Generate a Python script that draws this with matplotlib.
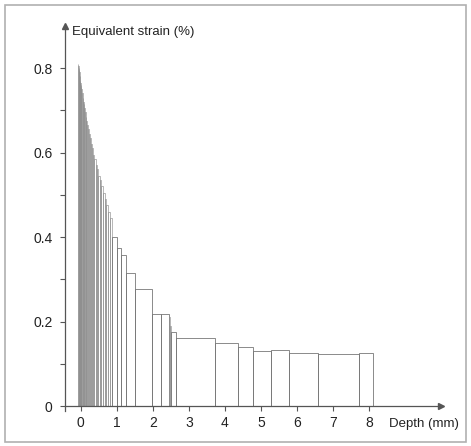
import matplotlib
matplotlib.use("Agg")
import matplotlib.pyplot as plt
from matplotlib.patches import Rectangle

plt.rcParams['font.family'] = ['Liberation Sans', 'DejaVu Sans']

# Bar left edges (depth, mm) and equivalent strain (%) of each layer
bar_left = [-0.08, -0.07, -0.06, -0.05, -0.04, -0.03, -0.02, -0.01, 0.0, 0.01,
            0.02, 0.035, 0.05, 0.065, 0.08, 0.10, 0.12, 0.14, 0.16, 0.185,
            0.21, 0.235, 0.26, 0.29, 0.32, 0.35, 0.38, 0.415, 0.45, 0.49,
            0.53, 0.57, 0.615, 0.66, 0.71, 0.76, 0.81, 0.88, 1.00, 1.12,
            1.26, 1.51, 1.97, 2.22, 2.46, 2.48, 2.50, 2.64, 3.72, 4.36,
            4.77, 5.28, 5.78, 6.59, 7.72]
bar_right = bar_left[1:] + [8.12]
strain = [0.81, 0.805, 0.80, 0.795, 0.79, 0.78, 0.77, 0.765, 0.76, 0.755,
          0.75, 0.74, 0.73, 0.72, 0.715, 0.705, 0.695, 0.685, 0.675, 0.665,
          0.655, 0.645, 0.635, 0.62, 0.61, 0.595, 0.585, 0.57, 0.56, 0.545,
          0.535, 0.52, 0.505, 0.49, 0.475, 0.46, 0.445, 0.40, 0.375, 0.357,
          0.314, 0.278, 0.219, 0.217, 0.21, 0.19, 0.176, 0.162, 0.148, 0.140,
          0.130, 0.132, 0.125, 0.122, 0.125]
widths = [r - l for l, r in zip(bar_left, bar_right)]

x_ticks = [0, 1, 2, 3, 4, 5, 6, 7, 8]
y_ticks = [0, 0.2, 0.4, 0.6, 0.8]
y_tick_labels = ['0', '0.2', '0.4', '0.6', '0.8']
y_minor = [0.1, 0.3, 0.5, 0.7]

W, H = 471, 446
fig = plt.figure(figsize=(W / 100, H / 100), dpi=100)
fig.patch.set_facecolor('white')

# outer frame
fig.add_artist(Rectangle((5 / W, 4 / H), 461 / W, 437 / H, transform=fig.transFigure,
                         fill=False, edgecolor='#b0b0b0', linewidth=1.2))

ax = fig.add_axes([64.5 / W, 34.9 / H, 376.6 / W, 384.9 / H])
ax.set_xlim(-0.45, 10.0)
ax.set_ylim(-0.012, 0.899)

axis_col = '#555555'
edge_cols = ['#8e8e8e' if w < 0.1 else '#777777' for w in widths]
edge_lws = [0.45 if w < 0.1 else 0.6 for w in widths]
ax.bar(bar_left, strain, width=widths, align='edge', fill=False,
       edgecolor=edge_cols, linewidth=edge_lws)

for s in ['top', 'right']:
    ax.spines[s].set_visible(False)
ax.spines['bottom'].set_position(('data', 0))
ax.spines['left'].set_color(axis_col)
ax.spines['bottom'].set_color(axis_col)
ax.spines['left'].set_linewidth(0.9)
ax.spines['bottom'].set_linewidth(0.9)

# arrowheads
ax.plot(1, 0, marker='>', color=axis_col, markersize=5, transform=ax.get_yaxis_transform(),
        clip_on=False)
ax.plot(-0.45, 1, marker='^', color=axis_col, markersize=4, transform=ax.get_xaxis_transform(),
        clip_on=False)

ax.set_xticks(x_ticks)
ax.set_xticklabels([str(t) for t in x_ticks])
ax.set_yticks(y_ticks)
ax.set_yticklabels(y_tick_labels)
ax.set_yticks(y_minor, minor=True)
ax.tick_params(axis='both', which='both', direction='out', length=3.5, width=0.8,
               color=axis_col, labelsize=10, labelcolor='#222222')
ax.tick_params(axis='y', pad=5)
ax.tick_params(axis='x', pad=4)

fig.text(72 / W, 1 - 32 / H, 'Equivalent strain (%)', fontsize=9.5, color='#222222',
         va='center', ha='left')
fig.text(389 / W, 1 - 424 / H, 'Depth (mm)', fontsize=9.5, color='#222222',
         va='center', ha='left')

fig.savefig('out.png', dpi=100, facecolor='white')
